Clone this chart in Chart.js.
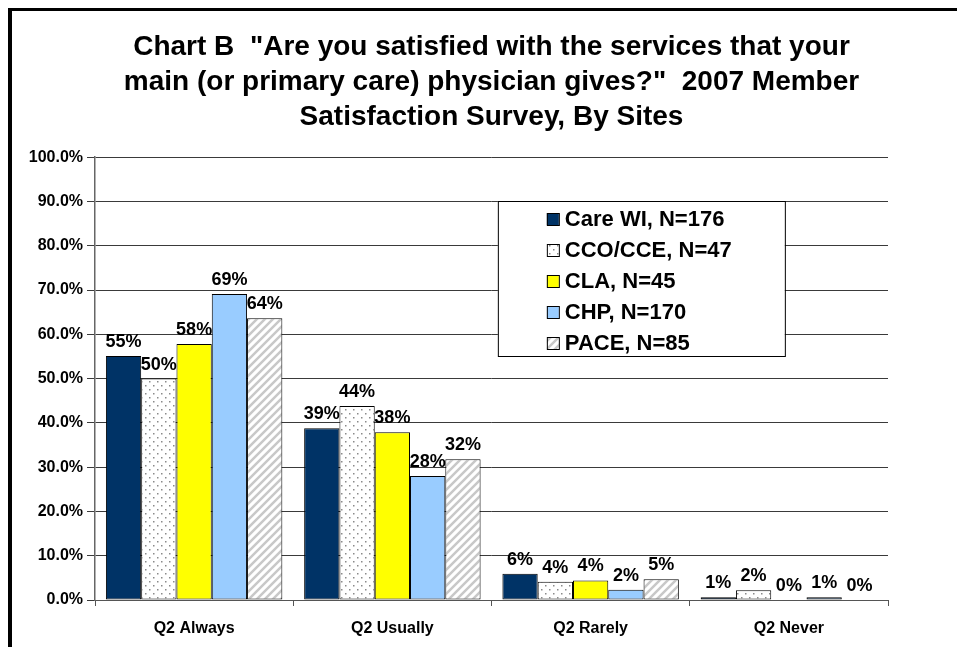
<!DOCTYPE html>
<html lang="en">
<head>
  <meta charset="utf-8">
  <title>Chart B - Member Satisfaction Survey</title>
  <script src="https://cdn.jsdelivr.net/npm/chart.js@4.4.1/dist/chart.umd.min.js"></script>
  <style>
    * { margin: 0; padding: 0; }
    body { width: 957px; height: 647px; overflow: hidden; background: #fff; position: relative; }
    #frame {
      position: absolute; left: 8px; top: 8px; width: 1000px; height: 700px;
      border-left: 4px solid #000; border-top: 3px solid #000;
    }
    #wrap { position: absolute; left: 0; top: 0; width: 957px; height: 647px; }
  </style>
</head>
<body>
  <div id="frame"></div>
  <div id="wrap"><canvas id="chart"></canvas></div>
  <script>
    // categories and series (percent)
    const categories = ['Q2 Always', 'Q2 Usually', 'Q2 Rarely', 'Q2 Never'];
    const careWI = [55.1, 38.8, 5.9, 0.6];
    const ccoCce = [50.0, 43.8, 4.1, 2.2];
    const cla = [57.8, 37.9, 4.4, 0];
    const chp = [69.1, 28.0, 2.3, 0.6];
    const pace = [63.6, 31.8, 4.7, 0];
    const seriesNames = ['Care WI, N=176', 'CCO/CCE, N=47', 'CLA, N=45', 'CHP, N=170', 'PACE, N=85'];
    const titleLines = [
      'Chart B  "Are you satisfied with the services that your',
      'main (or primary care) physician gives?"  2007 Member',
      'Satisfaction Survey, By Sites'
    ];

    const FONT = '"Liberation Sans", Arial, sans-serif';

    function dotPattern() {
      const c = document.createElement('canvas');
      c.width = 8; c.height = 8;
      const g = c.getContext('2d');
      g.fillStyle = '#fff'; g.fillRect(0, 0, 8, 8);
      g.fillStyle = '#8a8a8a';
      g.fillRect(1, 1, 1.5, 1.5);
      g.fillRect(5, 5, 1.5, 1.5);
      return g.createPattern(c, 'repeat');
    }

    function stripePattern() {
      const c = document.createElement('canvas');
      c.width = 8; c.height = 8;
      const g = c.getContext('2d');
      g.fillStyle = '#fff'; g.fillRect(0, 0, 8, 8);
      g.strokeStyle = '#c8c8c8';
      g.lineWidth = 2.5;
      g.beginPath();
      g.moveTo(-2, 10); g.lineTo(10, -2);
      g.moveTo(-2, 2); g.lineTo(2, -2);
      g.moveTo(6, 10); g.lineTo(10, 6);
      g.stroke();
      return g.createPattern(c, 'repeat');
    }

    const fills = ['#003366', dotPattern(), '#ffff00', '#99ccff', stripePattern()];
    const values = [careWI, ccoCce, cla, chp, pace];

    // value labels above each bar
    const barLabels = {
      id: 'barLabels',
      afterDatasetsDraw(chart) {
        const ctx = chart.ctx;
        ctx.save();
        ctx.font = 'bold 18px ' + FONT;
        ctx.fillStyle = '#000';
        ctx.textAlign = 'center';
        ctx.textBaseline = 'bottom';
        chart.data.datasets.forEach((ds, i) => {
          chart.getDatasetMeta(i).data.forEach((bar, j) => {
            ctx.fillText(Math.round(ds.data[j]) + '%', bar.x, bar.y - 5);
          });
        });
        ctx.restore();
      }
    };

    // legend box inside the plot
    const boxLegend = {
      id: 'boxLegend',
      afterDraw(chart) {
        const ctx = chart.ctx;
        const a = chart.chartArea;
        const x0 = a.left + (a.right - a.left) * 0.508;
        const y0 = a.top + (a.bottom - a.top) * 0.099;
        const w = 287, h = 155;
        ctx.save();
        ctx.fillStyle = '#fff';
        ctx.fillRect(x0, y0, w, h);
        ctx.strokeStyle = '#000';
        ctx.lineWidth = 1;
        ctx.strokeRect(x0 + 0.5, y0 + 0.5, w, h);
        ctx.font = 'bold 22px ' + FONT;
        ctx.textBaseline = 'middle';
        chart.data.datasets.forEach((ds, i) => {
          const cy = y0 + 18 + i * 31;
          ctx.fillStyle = ds.backgroundColor;
          ctx.fillRect(x0 + 49, cy - 6, 12, 12);
          ctx.strokeStyle = '#000';
          ctx.strokeRect(x0 + 49.5, cy - 5.5, 12, 12);
          ctx.fillStyle = '#000';
          ctx.fillText(ds.label, x0 + 67, cy + 1);
        });
        ctx.restore();
      }
    };

    new Chart(document.getElementById('chart'), {
      type: 'bar',
      data: {
        labels: categories,
        datasets: seriesNames.map((name, i) => ({
          label: name,
          data: values[i],
          backgroundColor: fills[i],
          borderColor: '#000',
          borderWidth: 1,
          borderSkipped: false
        }))
      },
      options: {
        responsive: true,
        maintainAspectRatio: false,
        animation: false,
        categoryPercentage: 0.89,
        barPercentage: 1.0,
        layout: { padding: { top: 30, right: 69, bottom: 10, left: 0 } },
        plugins: {
          legend: { display: false },
          tooltip: { enabled: false },
          title: {
            display: true,
            text: titleLines,
            fullSize: false,
            color: '#000',
            font: { family: FONT, size: 28, weight: 'bold', lineHeight: 1.24 },
            padding: { top: 0, bottom: 23 }
          }
        },
        scales: {
          x: {
            grid: { display: true, drawOnChartArea: false, drawTicks: true, tickLength: 6, color: '#555', offset: true },
            border: { color: '#555', width: 1 },
            ticks: { color: '#000', font: { family: FONT, size: 16, weight: 'bold' }, padding: 13 },
            afterFit(scale) { scale.height = 37; }
          },
          y: {
            min: 0,
            max: 100,
            grid: { color: '#3a3a3a', tickLength: 8 },
            border: { color: '#666', width: 1.5 },
            ticks: {
              stepSize: 10,
              color: '#000',
              padding: 4,
              font: { family: FONT, size: 16, weight: 'bold' },
              callback: v => v.toFixed(1) + '%'
            },
            afterFit(scale) { scale.width = 95; }
          }
        }
      },
      plugins: [barLabels, boxLegend]
    });
  </script>
</body>
</html>
